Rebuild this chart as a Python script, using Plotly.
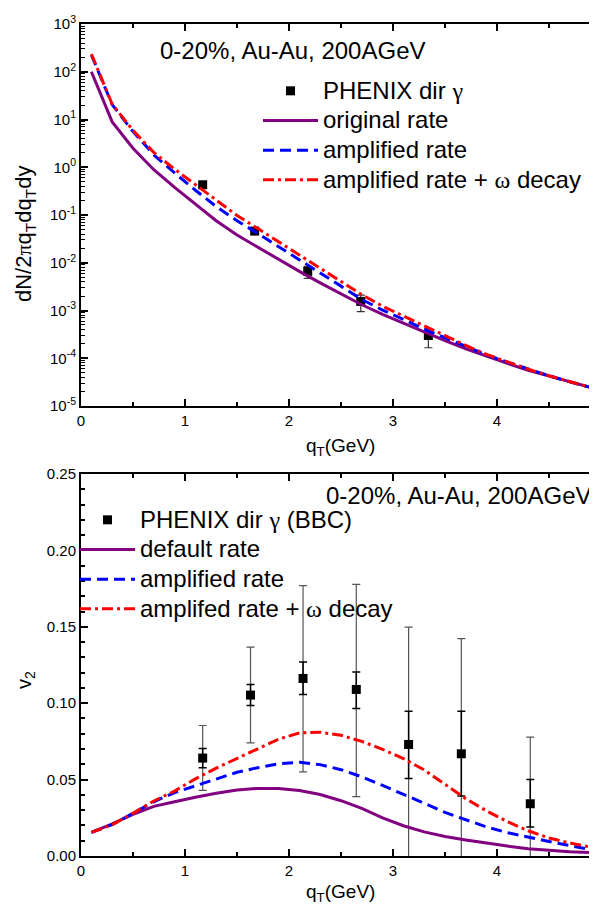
import plotly.graph_objects as go

# ---------------- data ----------------
qt = [0.1, 0.3, 0.5, 0.7, 0.9, 1.1, 1.3, 1.5, 1.7, 1.9, 2.1, 2.3, 2.5,
      2.7, 2.9, 3.1, 3.3, 3.5, 3.7, 3.9, 4.1, 4.3, 4.5, 4.7, 4.9]

# spectra dN/2pi qT dqT dy
spec_original = [100, 8.9, 2.5, 0.89, 0.38, 0.166, 0.076, 0.038, 0.0209, 0.0117,
                 0.0066, 0.0038, 0.00224, 0.00132, 8.3e-4, 5.4e-4, 3.47e-4, 2.34e-4,
                 1.58e-4, 1.10e-4, 7.8e-5, 5.6e-5, 4.2e-5, 3.2e-5, 2.45e-5]
spec_amplified = [224, 20.4, 5.6, 1.82, 0.76, 0.33, 0.151, 0.076, 0.041, 0.0219,
                  0.0117, 0.0062, 0.00324, 0.0017, 0.00102, 6.5e-4, 4.1e-4, 2.7e-4,
                  1.78e-4, 1.17e-4, 8.3e-5, 5.9e-5, 4.3e-5, 3.2e-5, 2.45e-5]
spec_omega = [234, 20.9, 5.9, 2.04, 0.91, 0.43, 0.20, 0.098, 0.052, 0.0275,
              0.0145, 0.0078, 0.0041, 0.00214, 0.00123, 7.6e-4, 4.7e-4, 2.95e-4,
              1.86e-4, 1.20e-4, 8.3e-5, 5.9e-5, 4.3e-5, 3.2e-5, 2.45e-5]

phenix_spec_qt = [1.17, 1.67, 2.18, 2.69, 3.34]
phenix_spec = [0.43, 0.046, 0.0066, 0.00155, 3.0e-4]
phenix_spec_err_plus = [0, 0, 0.0018, 0.00054, 1.2e-4]
phenix_spec_err_minus = [0, 0, 0.0019, 0.0006, 1.34e-4]

# elliptic flow v2
v2_original = [0.0155, 0.021, 0.0272, 0.0325, 0.0355, 0.0385, 0.041, 0.0432, 0.0442,
               0.0441, 0.0428, 0.0402, 0.0362, 0.0312, 0.025, 0.0198, 0.0158, 0.0128,
               0.0105, 0.0083, 0.0065, 0.0048, 0.0036, 0.0028, 0.0022]
v2_amplified = [0.0155, 0.0205, 0.028, 0.0355, 0.0415, 0.046, 0.0505, 0.0548, 0.0578,
                0.0603, 0.0613, 0.0598, 0.0565, 0.0518, 0.0462, 0.0405, 0.0345, 0.0285,
                0.0235, 0.019, 0.0153, 0.0122, 0.0095, 0.0068, 0.0043]
v2_omega = [0.0155, 0.0205, 0.028, 0.036, 0.0425, 0.0505, 0.0575, 0.064, 0.0705,
            0.0765, 0.0805, 0.081, 0.079, 0.075, 0.0698, 0.0638, 0.0563, 0.0468,
            0.0375, 0.0295, 0.0225, 0.0165, 0.0118, 0.0085, 0.0058]

phenix_v2_qt = [1.17, 1.63, 2.135, 2.647, 3.15, 3.657, 4.32]
phenix_v2 = [0.0641, 0.1053, 0.1162, 0.109, 0.073, 0.0669, 0.0342]
phenix_v2_stat_hi = [0.0704, 0.1122, 0.1269, 0.1205, 0.0948, 0.0948, 0.0501]
phenix_v2_stat_lo = [0.0578, 0.0985, 0.1057, 0.0966, 0.0508, 0.0392, 0.019]
phenix_v2_sys_hi = [0.0854, 0.1367, 0.177, 0.1777, 0.1498, 0.1423, 0.0778]
phenix_v2_sys_lo = [0.0429, 0.0741, 0.0551, 0.0388, -0.01, -0.01, -0.01]

x_ticks = [0, 1, 2, 3, 4, 5]
log_ticks = [1e-5, 1e-4, 1e-3, 1e-2, 1e-1, 1e0, 1e1, 1e2, 1e3]
log_ticktext = ["10<sup>-5</sup>", "10<sup>-4</sup>", "10<sup>-3</sup>", "10<sup>-2</sup>",
                "10<sup>-1</sup>", "10<sup>0</sup>", "10<sup>1</sup>", "10<sup>2</sup>",
                "10<sup>3</sup>"]
v2_ticks = [0.0, 0.05, 0.10, 0.15, 0.20, 0.25]
v2_ticktext = ["0.00", "0.05", "0.10", "0.15", "0.20", "0.25"]

# ---------------- style ----------------
W, H = 597, 905
FONT = "Liberation Sans, Arial, sans-serif"
SERIF = "Liberation Serif, Times New Roman, serif"
PURPLE, BLUE, RED = "#800080", "#0000FF", "#FF0000"
DASH = "11px,6px"
DASHDOT = "11px,4px,3px,4px"
LEG_SIZE = 24


def px_x(p):
    return p / W


def px_y(p):
    return 1 - p / H


def leg(txt):
    return '<span style="font-size:%dpx">%s</span>' % (LEG_SIZE, txt)


gamma = '<span style="font-family:%s">γ</span>' % SERIF
omega = '<span style="font-family:%s">ω</span>' % SERIF

fig = go.Figure()

# ----- top panel -----
fig.add_trace(go.Scatter(
    x=phenix_spec_qt, y=phenix_spec, mode="markers", name=leg("PHENIX dir " + gamma),
    marker=dict(symbol="square", size=9, color="black"),
    error_y=dict(type="data", array=phenix_spec_err_plus, arrayminus=phenix_spec_err_minus,
                 color="#333333", thickness=1.2, width=4),
    xaxis="x", yaxis="y", legend="legend"))
fig.add_trace(go.Scatter(x=qt, y=spec_original, mode="lines", name=leg("original rate"),
                         line=dict(color=PURPLE, width=3), xaxis="x", yaxis="y", legend="legend"))
fig.add_trace(go.Scatter(x=qt, y=spec_amplified, mode="lines", name=leg("amplified rate"),
                         line=dict(color=BLUE, width=3, dash=DASH), xaxis="x", yaxis="y", legend="legend"))
fig.add_trace(go.Scatter(x=qt, y=spec_omega, mode="lines", name=leg("amplified rate + " + omega + " decay"),
                         line=dict(color=RED, width=3, dash=DASHDOT), xaxis="x", yaxis="y", legend="legend"))

# ----- bottom panel -----
sys_plus = [h - v for h, v in zip(phenix_v2_sys_hi, phenix_v2)]
sys_minus = [v - l for v, l in zip(phenix_v2, phenix_v2_sys_lo)]
stat_plus = [h - v for h, v in zip(phenix_v2_stat_hi, phenix_v2)]
stat_minus = [v - l for v, l in zip(phenix_v2, phenix_v2_stat_lo)]

fig.add_trace(go.Scatter(
    x=phenix_v2_qt, y=phenix_v2, mode="markers", showlegend=False,
    marker=dict(symbol="square", size=1, color="rgba(0,0,0,0)"),
    error_y=dict(type="data", array=sys_plus, arrayminus=sys_minus,
                 color="#555555", thickness=1.2, width=4),
    xaxis="x2", yaxis="y2"))
fig.add_trace(go.Scatter(
    x=phenix_v2_qt, y=phenix_v2, mode="markers", name=leg("PHENIX dir " + gamma + " (BBC)"),
    marker=dict(symbol="square", size=9, color="black"),
    error_y=dict(type="data", array=stat_plus, arrayminus=stat_minus,
                 color="black", thickness=1.5, width=4),
    xaxis="x2", yaxis="y2", legend="legend2"))
fig.add_trace(go.Scatter(x=qt, y=v2_original, mode="lines", name=leg("default rate"),
                         line=dict(color=PURPLE, width=3), xaxis="x2", yaxis="y2", legend="legend2"))
fig.add_trace(go.Scatter(x=qt, y=v2_amplified, mode="lines", name=leg("amplified rate"),
                         line=dict(color=BLUE, width=3, dash=DASH), xaxis="x2", yaxis="y2", legend="legend2"))
fig.add_trace(go.Scatter(x=qt, y=v2_omega, mode="lines", name=leg("amplifed rate + " + omega + " decay"),
                         line=dict(color=RED, width=3, dash=DASHDOT), xaxis="x2", yaxis="y2", legend="legend2"))

axis_common = dict(showline=True, linecolor="black", linewidth=2, mirror="ticks",
                   ticks="inside", tickcolor="black", tickwidth=1.5, ticklen=7,
                   showgrid=False, zeroline=False, automargin=False,
                   ticklabeloverflow="allow",
                   tickfont=dict(family=FONT, size=15, color="black"))

xdom = [px_x(73), px_x(593)]
top_dom = [px_y(398), px_y(16)]
bot_dom = [px_y(848), px_y(466)]

minor_log = [m * 10 ** e for e in range(-5, 3) for m in range(2, 10)]

legend_common = dict(xanchor="left", yanchor="top", bgcolor="rgba(0,0,0,0)", borderwidth=0,
                     itemwidth=55, font=dict(family=FONT, size=20.5, color="black"),
                     tracegroupgap=0)

fig.update_layout(
    width=W, height=H,
    margin=dict(l=0, r=0, t=0, b=0),
    paper_bgcolor="white", plot_bgcolor="white",
    font=dict(family=FONT, size=15, color="black"),
    xaxis=dict(domain=xdom, range=[0, 5], anchor="y", tickvals=x_ticks,
               minor=dict(ticks="inside", ticklen=4, tickwidth=1.5, tickcolor="black", dtick=0.5),
               **axis_common),
    yaxis=dict(domain=top_dom, type="log", range=[-5, 3], anchor="x",
               tickvals=log_ticks, ticktext=log_ticktext,
               minor=dict(ticks="inside", ticklen=4, tickwidth=1, tickcolor="black",
                          tickmode="array", tickvals=minor_log),
               **axis_common),
    xaxis2=dict(domain=xdom, range=[0, 5], anchor="y2", tickvals=x_ticks,
                minor=dict(ticks="inside", ticklen=4, tickwidth=1.5, tickcolor="black", dtick=0.5),
                **axis_common),
    yaxis2=dict(domain=bot_dom, range=[0, 0.25], anchor="x2",
                tickvals=v2_ticks, ticktext=v2_ticktext,
                minor=dict(ticks="inside", ticklen=4, tickwidth=1.5, tickcolor="black", dtick=0.01),
                **axis_common),
    legend=dict(x=px_x(250), y=px_y(63), **legend_common),
    legend2=dict(x=px_x(67), y=px_y(492), **legend_common),
    showlegend=True,
)

annotations = [
    dict(text="0-20%, Au-Au, 200AGeV", x=px_x(284.5), y=px_y(42), xanchor="center", yanchor="middle",
         font=dict(size=24)),
    dict(text="0-20%, Au-Au, 200AGeV", x=px_x(586), y=px_y(487), xanchor="right", yanchor="middle",
         font=dict(size=24)),
    dict(text="q<sub>T</sub>(GeV)", x=px_x(332.5), y=px_y(439), xanchor="center", yanchor="middle",
         font=dict(size=19)),
    dict(text="q<sub>T</sub>(GeV)", x=px_x(332.5), y=px_y(885), xanchor="center", yanchor="middle",
         font=dict(size=19)),
    dict(text="dN/2<span style=\"font-family:%s\">π</span>q<sub>T</sub>dq<sub>T</sub>dy" % SERIF,
         x=px_x(17), y=px_y(226), xanchor="center", yanchor="middle", textangle=-90,
         font=dict(size=22)),
    dict(text="v<sub>2</sub>", x=px_x(17), y=px_y(672), xanchor="center", yanchor="middle",
         textangle=-90, font=dict(size=20)),
]
for a in annotations:
    a.update(xref="paper", yref="paper", showarrow=False)
    a["font"].update(family=FONT, color="black")
fig.update_layout(annotations=annotations)

fig.write_html("out.html")
